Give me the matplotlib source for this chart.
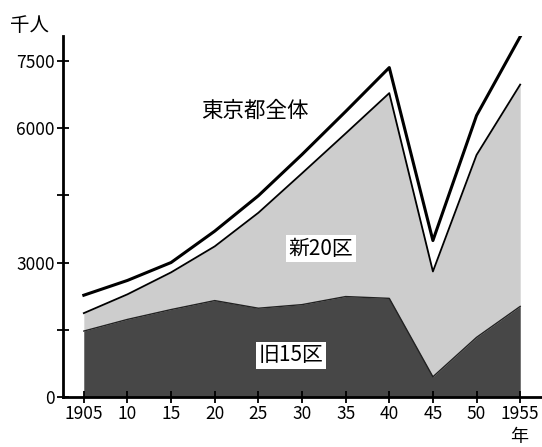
import numpy as np
import matplotlib.pyplot as plt

plt.rcParams['font.family'] = ['Noto Sans CJK JP', 'DejaVu Sans']

# 年次
years = [1905, 1910, 1915, 1920, 1925, 1930, 1935, 1940, 1945, 1950, 1955]
# 東京都全体 (千人)
total = [2270, 2600, 3000, 3700, 4490, 5410, 6370, 7350, 3490, 6280, 8040]
# 区部 = 旧15区 + 新20区 (千人)
ku_all = [1870, 2290, 2780, 3360, 4110, 4990, 5880, 6780, 2800, 5400, 6970]
# 旧15区 (千人)
old15 = [1470, 1730, 1950, 2150, 1980, 2060, 2240, 2200, 450, 1330, 2020]

xtick_labels = ['1905', '10', '15', '20', '25', '30', '35', '40', '45', '50', '1955']
ytick_vals = [0, 1500, 3000, 4500, 6000, 7500]
ytick_labels = ['0', '', '3000', '', '6000', '7500']

fig = plt.figure(figsize=(5.42, 4.47), dpi=100)
ax = fig.add_axes([0.116, 0.112, 0.884, 0.807])

ax.fill_between(years, 0, ku_all, color='#cdcdcd', lw=0)
ax.fill_between(years, 0, old15, color='#474747', lw=0)
ax.plot(years, old15, color='#222222', lw=1.0)
ax.plot(years, ku_all, color='black', lw=1.3)
ax.plot(years, total, color='black', lw=2.2)

ax.set_xlim(1902.6, 1957.5)
ax.set_ylim(0, 8050)
ax.set_xticks(years)
ax.set_xticklabels(xtick_labels, fontsize=12.5)
ax.set_yticks(ytick_vals)
ax.set_yticklabels(ytick_labels, fontsize=12.5)
ax.tick_params(direction='inout', length=8, width=1.3, pad=2)

for s in ['top', 'right']:
    ax.spines[s].set_visible(False)
for s in ['left', 'bottom']:
    ax.spines[s].set_linewidth(2)

fig.text(0.018, 0.93, '千人', fontsize=14)
fig.text(0.942, 0.012, '年', fontsize=13)

ax.text(1924.6, 6380, '東京都全体', fontsize=15.5, ha='center', va='center')
ax.text(1932.2, 3310, '新20区', fontsize=15, ha='center', va='center',
        bbox=dict(facecolor='white', edgecolor='none', pad=2))
ax.text(1928.7, 930, '旧15区', fontsize=15, ha='center', va='center',
        bbox=dict(facecolor='white', edgecolor='none', pad=2))

fig.savefig('out.png', dpi=100)
